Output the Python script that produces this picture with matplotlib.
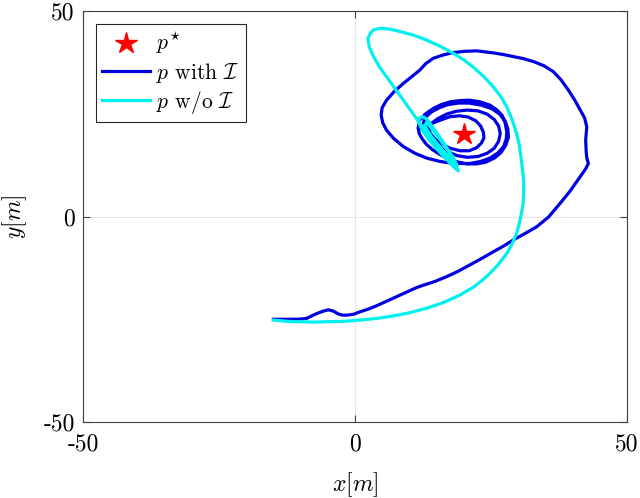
import numpy as np
import matplotlib
matplotlib.use('Agg')
import matplotlib.pyplot as plt

plt.rcParams['font.family'] = 'cmr10'
plt.rcParams['mathtext.fontset'] = 'cm'
plt.rcParams['axes.unicode_minus'] = False

# target point
p_star = (20, 20)

# trajectory with I
blue_x = [-15, -13.5, -12, -10.5, -8.9, -8, -7, -6, -4.9, -4, -3.1, -2.3, -1.5, -0.3, 0.9, 2.5,
          4, 5.5, 7, 8.5, 10, 11.3, 12.6, 14.7, 16.9, 19, 21.1, 23.3, 25.4, 27.3, 29.1, 31.3,
          33.4, 35.6, 37.7, 39.6, 41.4, 42.4, 42.9, 42.6, 42.5, 42.4, 42.6, 42.2, 41.4, 40.4,
          39.2, 37.9, 36.5, 34.7, 32.8, 31, 29.1, 27.3, 25.5, 22.4, 20.2, 18.1, 16.2, 14.4, 13,
          11.9, 10.4, 8.9, 7.2, 5.8, 5.0, 4.8, 5.1, 5.8, 7.1, 8.9, 11, 13.2, 15.6, 18.1, 21.1,
          23.1, 24.8, 26.3, 27.3, 27.8, 27.9, 27.6, 27.0, 26, 24.8, 23, 21.1, 19.2, 17.5, 15.8,
          14.4, 12.9, 11.9, 11.6,
          11.8, 12.3, 13.1, 14.2, 15.6, 17.2, 18.8, 20.5, 22.3, 24, 25.6, 26.8, 27.7, 28.2, 28.1,
          27.6, 26.6, 25.2, 23.2, 21, 19, 17, 15.4, 14, 13.1, 12.6, 12.6, 13,
          14, 15.3, 17, 18.8, 20.7, 22.6, 24.3, 25.6, 26.4, 26.7, 26.4, 25.6, 24.3, 22.6, 20.6,
          18.6, 16.8, 15.2, 14.2, 13.6, 13.8, 14.6,
          15.9, 17.5, 19.3, 21, 22.3, 23.2, 23.7, 23.6, 23.1, 22.2, 20.8, 19.2, 17.5, 16, 14.6,
          13.5, 12.2]
blue_y = [-25, -25, -25, -25, -24.8, -24.2, -23.6, -23.1, -22.7, -23, -23.7, -24, -24.0, -23.8,
          -23.2, -22.5, -21.7, -20.8, -19.9, -19, -18.1, -17.3, -16.7, -15.8, -14.6, -13.3,
          -11.8, -10.2, -8.6, -7.2, -5.7, -4.1, -2.5, -0.1, 3.2, 6.3, 9.7, 11.6, 12.9, 14.3,
          15.8, 18.5, 21.8, 24, 25.9, 28.3, 30.8, 33.2, 35.2, 36.7, 37.7, 38.4, 38.9, 39.4, 39.8,
          40.3, 40.2, 39.9, 39.3, 38.5, 37.2, 35.6, 34, 32.4, 30.4, 28.3, 26.5, 24.7, 22.8, 21.0,
          19, 17.0, 15.4, 14.2, 13.4, 12.9, 12.9, 13.4, 14.2, 15.5, 17.0, 18.8, 20.6, 22.8, 24.7,
          26, 27.1, 27.9, 28.3, 28.2, 27.9, 27.2, 26.3, 24.9, 23.5, 21.5,
          20.2, 19, 17.6, 16.3, 15.1, 14, 13.3, 12.8, 12.8, 13.2, 14.2, 15.5, 17.3, 19.3, 21.3,
          23.2, 24.9, 26.2, 27.1, 27.6, 27.6, 27.2, 26.4, 25.4, 24.3, 23, 21.5, 20,
          18.4, 17, 15.8, 14.8, 14.4, 14.6, 15.4, 16.6, 18.3, 20.2, 22, 23.6, 24.9, 25.7, 25.9,
          25.6, 24.9, 23.8, 22.8, 21.6, 20.3, 19,
          17.6, 16.6, 16, 16, 16.7, 17.8, 19.1, 20.5, 22, 23.3, 24.2, 24.5, 24.3, 23.6, 22.9,
          22.2, 21.4]

# trajectory without I
cyan_x = [-15, -12.5, -10, -7.5, -5.2, -2, 0.9, 4, 7.0, 10.1, 13.2, 16.3, 19.3, 22, 24.2, 26.2,
          27.9, 28.9, 29.7, 30.2, 30.6, 30.9, 31.0, 31.0, 30.8, 30.5, 30.2, 29.7, 28.9, 27.9,
          26.8, 25.4, 23.7, 21.7, 20, 18.1, 15.7, 13.2, 10.8, 8.3, 6.4, 4.6, 3.4, 2.8, 2.4, 2.6,
          3.4, 4.5, 5.8, 7.3, 8.9, 10.4, 11.9, 13.4, 15.0, 16.3, 17.5, 18.4, 19.0,
          18.3, 17.3, 16, 14.8, 13.6, 12.6, 12, 11.7, 11.9, 12.4, 13, 13.6, 14.5, 15.5, 16.5,
          17.5, 18.3, 18.8, 18.2, 17.0, 15.5, 14.2, 13.3, 12.8, 13.2, 13.9, 14.8, 16, 17.2, 18.1,
          18.6]
cyan_y = [-25.2, -25.5, -25.6, -25.7, -25.6, -25.5, -25.2, -24.8, -24.2, -23.4, -22.3, -20.9,
          -19.1, -17, -14.6, -11.9, -9.0, -6.6, -4.1, -1.7, 0.8, 3.2, 5.6, 8.5, 11.3, 14.5, 17.4,
          20.2, 23.5, 26.7, 29.2, 31.6, 34, 36.4, 38.1, 39.7, 41.4, 42.9, 44.1, 45.0, 45.6, 45.8,
          45.4, 44.6, 43.4, 41.3, 38.9, 36.4, 34.0, 31.2, 28.3, 25.5, 22.7, 20.2, 17.8, 15.7,
          13.7, 12.2, 11.1,
          11.9, 13.2, 15, 16.8, 18.7, 20.5, 22, 23.2, 24, 24.3, 23.9, 23.0, 21.3, 19.5, 17.5,
          15.5, 13.7, 12.2, 13.3, 14.8, 17, 19.2, 21, 22.2, 22.8, 21.7, 20.2, 18, 15.8, 14,
          12.5]

ticks = [-50, 0, 50]
tick_labels = ['-50', '0', '50']

fig = plt.figure(figsize=(6.4, 4.98), dpi=100)
ax = fig.add_axes([0.1297, 0.1526, 0.85, 0.8253])

ax.axhline(0, color='#e6e6e6', lw=0.8, zorder=0)
ax.axvline(0, color='#e6e6e6', lw=0.8, zorder=0)

ax.plot(blue_x, blue_y, color='#0000e0', lw=2.3, label=r'$p$ with $\mathcal{I}$', zorder=2,
        solid_joinstyle='round')
ax.plot(cyan_x, cyan_y, color='#00f0f0', lw=2.3, label=r'$p$ w/o $\mathcal{I}$', zorder=3,
        solid_joinstyle='round')
ax.plot(p_star[0], p_star[1], '*', color='red', ms=16, ls='none', label=r'$p^{\star}$', zorder=4)

ax.set_xlim(-50, 50)
ax.set_ylim(-50, 50)
ax.set_xticks(ticks)
ax.set_yticks(ticks)
ax.set_xticklabels(tick_labels, fontsize=17)
ax.set_yticklabels(tick_labels, fontsize=17)
ax.tick_params(direction='in', top=True, right=True, length=5, color='#404040')
ax.tick_params(axis='x', pad=8)
ax.tick_params(axis='y', pad=6)
for s in ax.spines.values():
    s.set_color('#404040')
    s.set_linewidth(0.8)

ax.set_xlabel(r'$x[m]$', fontsize=17, labelpad=11)
ax.set_ylabel(r'$y[m]$', fontsize=17, labelpad=10)

h, l = ax.get_legend_handles_labels()
order = [2, 0, 1]
leg = ax.legend([h[i] for i in order], [l[i] for i in order], loc='upper left',
                fontsize=15.5, fancybox=False, framealpha=1, edgecolor='#262626',
                handlelength=2.2, handletextpad=0.3, borderpad=0.3, labelspacing=0.2,
                borderaxespad=0.6)
leg.get_frame().set_linewidth(0.8)

plt.savefig('out.png', dpi=100)
